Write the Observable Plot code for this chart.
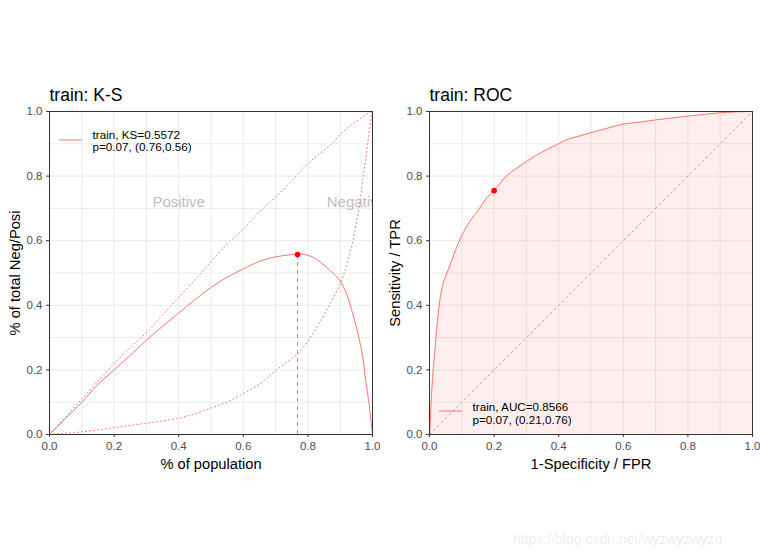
<!DOCTYPE html>
<html><head><meta charset="utf-8">
<script src="https://cdn.jsdelivr.net/npm/d3@7"></script>
<script src="https://cdn.jsdelivr.net/npm/@observablehq/plot@0.6"></script>
<style>
body{margin:0;background:#fff;}
#wrap{position:relative;width:760px;height:558px;display:flex;background:#fff;}
#wm{position:absolute;left:513px;top:531px;font:14px "Liberation Sans",Arial,sans-serif;color:#efefef;white-space:nowrap;}
</style></head><body>
<div id="wrap"><div id="wm">https://blog.csdn.net/wyzwyzwyzo</div></div>
<script>
// ---- K-S panel data ----
const ksPop  = [0,0.05,0.1,0.15,0.2,0.25,0.3,0.35,0.4,0.45,0.5,0.55,0.6,0.65,0.7,0.75,0.77,0.8,0.85,0.88,0.9,0.92,0.94,0.96,0.97,0.98,0.99,1.0];
const ksNeg  = [0,0.055,0.11,0.165,0.22,0.27,0.315,0.37,0.425,0.478,0.535,0.59,0.635,0.69,0.735,0.785,0.807,0.84,0.88,0.905,0.93,0.947,0.963,0.977,0.984,0.99,0.996,1.0];
const ksPos  = [0,0.004,0.008,0.014,0.021,0.028,0.035,0.042,0.05,0.063,0.082,0.1,0.126,0.155,0.198,0.235,0.25,0.288,0.37,0.425,0.466,0.52,0.6,0.71,0.79,0.86,0.94,1.0];
const ksDiff = [0,0.05,0.1,0.155,0.2,0.245,0.292,0.335,0.376,0.417,0.455,0.487,0.513,0.536,0.550,0.557,0.559,0.555,0.525,0.497,0.475,0.435,0.37,0.29,0.239,0.16,0.09,0.0];
const ksBestX = [0.768];
const ksBestY = [0.557];
const ksSideLabels = ["Positive","Negative"];
const ksSideX = [0.4,0.95];
const ksSideY = [0.72,0.72];
const ksLegend = ["train, KS=0.5572","p=0.07, (0.76,0.56)"];

// ---- ROC panel data ----
const rocFpr = [0,0.002,0.005,0.01,0.015,0.02,0.03,0.04,0.05,0.06,0.075,0.1,0.125,0.15,0.175,0.2,0.235,0.275,0.33,0.4,0.43,0.46,0.51,0.55,0.6,0.65,0.7,0.75,0.8,0.85,0.9,0.95,1.0];
const rocTpr = [0,0.03,0.1,0.18,0.24,0.3,0.40,0.46,0.49,0.515,0.556,0.616,0.66,0.693,0.73,0.755,0.797,0.828,0.864,0.9,0.915,0.923,0.937,0.948,0.961,0.967,0.974,0.980,0.986,0.991,0.996,0.999,1.0];
const rocBestX = [0.2];
const rocBestY = [0.755];
const diagX = [0,1];
const diagY = [0,1];
const rocLegend = ["train, AUC=0.8566","p=0.07, (0.21,0.76)"];

// ---- axes ----
const majorTicks = [0,0.2,0.4,0.6,0.8,1.0];
const gridTicks = [0,0.1,0.2,0.3,0.4,0.5,0.6,0.7,0.8,0.9,1.0];

const RED = "#F8766D";
const FONT = '"Liberation Sans", Arial, sans-serif';
const M = {top:111,right:8,bottom:124,left:49};

function panel(title, xTitle, yTitle, legend, dataMarks){
  const svg = Plot.plot({
    width:380, height:558,
    marginTop:M.top, marginRight:M.right, marginBottom:M.bottom, marginLeft:M.left,
    style:{fontFamily:FONT, fontSize:"11.5px", color:"#4D4D4D", background:"white", overflow:"visible"},
    x:{domain:[0,1]}, y:{domain:[0,1]},
    marks:[
      Plot.gridX(gridTicks,{stroke:"#EBEBEB", strokeOpacity:1}),
      Plot.gridY(gridTicks,{stroke:"#EBEBEB", strokeOpacity:1}),
      ...dataMarks,
      Plot.frame({stroke:"#333333", strokeWidth:1}),
      Plot.axisX(majorTicks,{tickSize:3, tickPadding:4.5, tickFormat:d3.format(".1f"), label:null, stroke:"#333333", fill:"#4D4D4D", fontSize:11.5}),
      Plot.axisY(majorTicks,{tickSize:3, tickPadding:4, tickFormat:d3.format(".1f"), label:null, stroke:"#333333", fill:"#4D4D4D", fontSize:11.5}),
      Plot.text([title],{frameAnchor:"top-left", lineAnchor:"middle", textAnchor:"start", dy:-16.5, fontSize:17.5, fill:"black"}),
      Plot.text([xTitle],{frameAnchor:"bottom", lineAnchor:"middle", textAnchor:"middle", dy:29.5, fontSize:14.7, fill:"black"}),
      Plot.text([yTitle],{frameAnchor:"left", lineAnchor:"middle", textAnchor:"middle", rotate:-90, dx:-34, fontSize:14.7, fill:"black"}),
      Plot.text([legend.lines[0]],{frameAnchor:legend.anchor, lineAnchor:"middle", textAnchor:"start", dx:43, dy:legend.dy1, fontSize:11.7, fill:"black"}),
      Plot.text([legend.lines[1]],{frameAnchor:legend.anchor, lineAnchor:"middle", textAnchor:"start", dx:43, dy:legend.dy2, fontSize:11.7, fill:"black"})
    ]
  });
  // legend key glyph
  const ky = legend.anchor === "top-left" ? M.top + legend.keyOff : (558 - M.bottom) + legend.keyOff;
  d3.select(svg).append("line")
    .attr("x1", M.left + 10).attr("x2", M.left + 33)
    .attr("y1", ky).attr("y2", ky)
    .attr("stroke", RED).attr("stroke-width", 1);
  return svg;
}

const ksRows = ksPop.map((p,i)=>({p, neg:ksNeg[i], pos:ksPos[i], diff:ksDiff[i]}));
const ksBest = ksBestX.map((x,i)=>({x, y:ksBestY[i]}));
const ksSide = ksSideLabels.map((t,i)=>({t, x:ksSideX[i], y:ksSideY[i]}));

const ksSvg = panel("train: K-S","% of population","% of total Neg/Posi",
  {lines:ksLegend, anchor:"top-left", dy1:24, dy2:36, keyOff:29},
  [
    Plot.text(ksSide,{x:"x", y:"y", text:"t", fill:"#BEBEBE", fontSize:15, clip:true}),
    Plot.line(ksRows,{x:"p", y:"neg", stroke:RED, strokeWidth:1, strokeDasharray:"1,3"}),
    Plot.line(ksRows,{x:"p", y:"pos", stroke:RED, strokeWidth:1, strokeDasharray:"1,3"}),
    Plot.line(ksRows,{x:"p", y:"diff", stroke:RED, strokeWidth:1, curve:"monotone-x"}),
    Plot.ruleX(ksBest,{x:"x", y1:0, y2:"y", stroke:RED, strokeWidth:1, strokeDasharray:"4,4"}),
    Plot.dot(ksBest,{x:"x", y:"y", r:2.8, fill:"red", stroke:null})
  ]);

const rocRows = rocFpr.map((f,i)=>({f, t:rocTpr[i]}));
const rocBest = rocBestX.map((x,i)=>({x, y:rocBestY[i]}));
const diag = diagX.map((x,i)=>({x, y:diagY[i]}));

const rocSvg = panel("train: ROC","1-Specificity / FPR","Sensitivity / TPR",
  {lines:rocLegend, anchor:"bottom-left", dy1:-27.3, dy2:-14, keyOff:-23},
  [
    Plot.areaY(rocRows,{x:"f", y:"t", fill:RED, fillOpacity:0.12, curve:"monotone-x"}),
    Plot.line(diag,{x:"x", y:"y", stroke:"#B0B0B0", strokeWidth:1, strokeDasharray:"2.5,3"}),
    Plot.line(rocRows,{x:"f", y:"t", stroke:RED, strokeWidth:1, curve:"monotone-x"}),
    Plot.dot(rocBest,{x:"x", y:"y", r:2.8, fill:"red", stroke:null})
  ]);

const wrap = document.getElementById("wrap");
wrap.insertBefore(rocSvg, wrap.firstChild);
wrap.insertBefore(ksSvg, wrap.firstChild);
</script>
</body></html>
